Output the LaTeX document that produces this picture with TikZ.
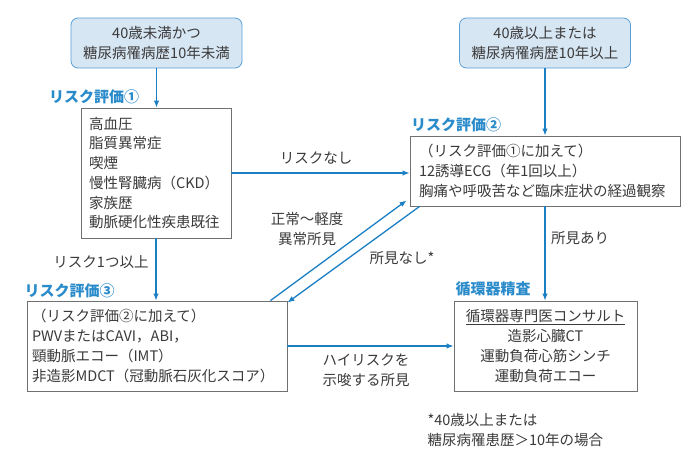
\documentclass[tikz,border=0pt]{standalone}
\usepackage{fontspec}
\setmainfont{Noto Sans CJK JP}
\usepackage{tikz}
\usetikzlibrary{arrows.meta,calc,positioning}
\definecolor{flow}{HTML}{1B7FC4}
\definecolor{heading}{HTML}{2A8BCB}
\definecolor{startfill}{HTML}{D7E6F3}
\definecolor{startline}{HTML}{5A9ED6}
\definecolor{boxline}{HTML}{707070}
\definecolor{ink}{HTML}{3A3A3A}

\begin{document}
\begin{tikzpicture}[x=1pt,y=-1pt,>={Latex[length=7pt,width=5.5pt]},
    every node/.style={text=ink,font=\fontsize{14.5}{19.7}\selectfont},
    startbox/.style={draw=startline,fill=startfill,line width=0.8pt,rounded corners=7pt,
      minimum width=171pt,minimum height=50pt,align=center,inner sep=0pt},
    evalbox/.style={draw=boxline,line width=0.8pt,align=left,inner ysep=0pt},
    evalhead/.style={text=heading,font=\fontsize{15}{18}\selectfont\bfseries},
    flowline/.style={->,flow,line width=1.3pt}]
  \useasboundingbox[fill=white] (0,0) rectangle (700,453);
  % start conditions
  \node[startbox] (start1) at (156.5,43) {40歳未満かつ\\糖尿病罹病歴10年未満};
  \node[startbox] (start2) at (545,43) {40歳以上または\\糖尿病罹病歴10年以上};
  % evaluation boxes
  \node[evalbox,text width=134pt,inner xsep=8pt,minimum height=130pt] (risk1) at (156,173)
    {高血圧\\脂質異常症\\喫煙\\慢性腎臓病（CKD）\\家族歴\\動脈硬化性疾患既往};
  \node[evalbox,text width=252pt,inner xsep=9pt,minimum height=70pt] (risk2) at (545,171)
    {（リスク評価①に加えて）\\12誘導ECG（年1回以上）\\胸痛や呼吸苦など臨床症状の経過観察};
  \node[evalbox,text width=250pt,inner xsep=5pt,minimum height=90pt] (risk3) at (157,346)
    {（リスク評価②に加えて）\\PWVまたはCAVI，ABI，\\頸動脈エコー（IMT）\\非造影MDCT（冠動脈石灰化スコア）};
  \node[evalbox,align=center,minimum width=183pt,minimum height=90pt] (consult) at (545.5,346)
    {\underline{循環器専門医コンサルト}\\造影心臓CT\\運動負荷心筋シンチ\\運動負荷エコー};
  % headings
  \node[evalhead] (head1) at (94,97) {リスク評価①};
  \node[evalhead] (head2) at (456,125) {リスク評価②};
  \node[evalhead] (head3) at (69.5,291) {リスク評価③};
  \node[evalhead] (head4) at (493,289) {循環器精査};
  % connectors
  \draw[flowline] (start1.south) -- (start1.south |- risk1.north);
  \draw[flowline] (start2.south) -- (start2.south |- risk2.north);
  \draw[flowline] (risk1.east) -- (risk1.east -| risk2.west);
  \draw[flowline] (risk1.south) -- (risk1.south |- risk3.north);
  \draw[flowline] (risk2.south) -- (risk2.south |- consult.north);
  \draw[flowline] (risk3.east) -- (risk3.east -| consult.west);
  \draw[flowline] ($(risk3.north east)+(-17,0)$) -- ($(risk2.south west)+(-3,-6)$);
  \draw[flowline] ($(risk2.south west)+(10,0)$) -- ($(risk3.north east)+(0,2)$);
  % connector labels
  \node (nrisk) at (316,158) {リスクなし};
  \node[align=center] (normal) at (307,229) {正常～軽度\\異常所見};
  \node (nofind) at (402,258) {所見なし*};
  \node (finding) at (580,238) {所見あり};
  \node (onemore) at (101,262) {リスク1つ以上};
  \node[align=center] (highrisk) at (366,370) {ハイリスクを\\示唆する所見};
  \node[anchor=west,align=left] (footnote) at (424,430) {*40歳以上または\\糖尿病罹患歴＞10年の場合};
\end{tikzpicture}
\end{document}
